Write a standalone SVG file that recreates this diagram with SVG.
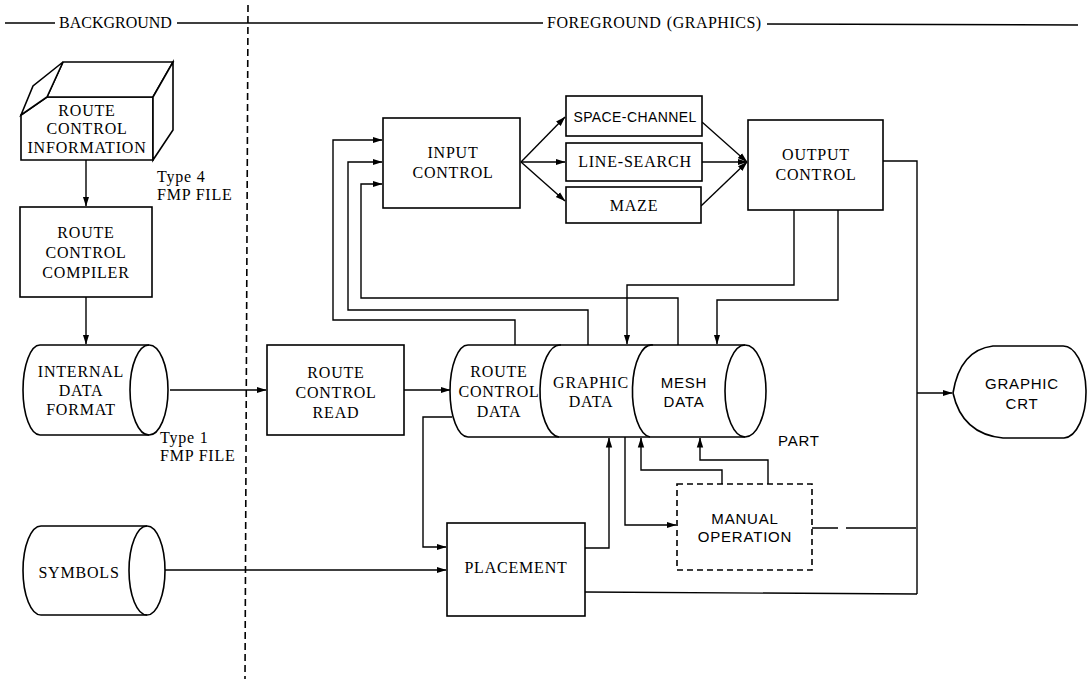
<svg xmlns="http://www.w3.org/2000/svg" width="1090" height="679" viewBox="0 0 1090 679">
<style>
.s{fill:none;stroke:#000;stroke-width:1.6}
.w{fill:#fff;stroke:#000;stroke-width:1.6}
.c{fill:none;stroke:#000;stroke-width:1.4}
.a{marker-end:url(#ah)}
.t{font-family:"Liberation Serif",serif;font-size:16px;letter-spacing:0.8px;fill:#000;text-anchor:middle}
.ts{font-family:"Liberation Sans",sans-serif;font-size:15px;letter-spacing:0.8px;fill:#000;text-anchor:middle}
.l{text-anchor:start}
.h{letter-spacing:0px}
.h2{letter-spacing:0.5px;word-spacing:1px}
</style>
<defs>
<marker id="ah" markerWidth="10" markerHeight="8" refX="9.5" refY="4" orient="auto" markerUnits="userSpaceOnUse">
<path d="M0,0.8 L10,4 L0,7.2 z" fill="#000"/>
</marker>
</defs>
<rect width="1090" height="679" fill="#fff"/>

<g id="header">
<path class="c" d="M5,23 H55 M177,23 H543 M767,24 L1078,25"/>
<text class="t l h" x="59" y="28">BACKGROUND</text>
<text class="t l h2" x="547" y="28">FOREGROUND (GRAPHICS)</text>
<path d="M248,5 L245,679" fill="none" stroke="#000" stroke-width="1.6" stroke-dasharray="7,4"/>
</g>

<g id="connectors">
<path class="c a" d="M86,160 V206"/>
<path class="c a" d="M86,297 V344"/>
<path class="c a" d="M170,390 H266"/>
<path class="c a" d="M404,390 H450"/>
<path class="c a" d="M515,345 V320 H333 V140 H382"/>
<path class="c a" d="M588,345 V310 H348 V162 H382"/>
<path class="c a" d="M678,345 V298 H361 V184 H382"/>
<path class="c a" d="M521,162 L565,117"/>
<path class="c a" d="M521,162 H565"/>
<path class="c a" d="M521,162 L565,201"/>
<path class="c a" d="M702,122 L747,162"/>
<path class="c a" d="M702,162 H747"/>
<path class="c a" d="M701,206 L747,162"/>
<path class="c a" d="M794,210 V285 H627 V344"/>
<path class="c a" d="M838,210 V300 H717 V344"/>
<path class="c" d="M883,161 H917 V594"/>
<path class="c a" d="M917,393 H952"/>
<path class="c" d="M585,592 L917,594"/>
<path class="c" d="M812,528 H838 M846,528 H916"/>
<path class="c a" d="M722,484 V470 H641 V438"/>
<path class="c a" d="M768,484 V460 H700 V438"/>
<path class="c a" d="M625,437 V525 H676"/>
<path class="c a" d="M585,548 H609 V438"/>
<path class="c a" d="M452,417 H423 V547 H446"/>
<path class="c a" d="M165,570 H446"/>
</g>

<g id="route-control-information">
<path class="w" d="M21,115 L47,97 H153 V160 H21 Z"/>
<path class="w" d="M47,97 L63,62 H173 L153,97 Z"/>
<path class="w" d="M153,97 L173,62 V130 L153,160 Z"/>
<path class="w" d="M21,115 L33,86 L63,62 L47,97 Z"/>
<text class="t" x="87" y="116">ROUTE</text>
<text class="t" x="87" y="134">CONTROL</text>
<text class="t" x="87" y="153">INFORMATION</text>
</g>

<g id="route-control-compiler">
<rect class="w" x="20" y="207" width="132" height="90"/>
<text class="t" x="86" y="238">ROUTE</text>
<text class="t" x="86" y="258">CONTROL</text>
<text class="t" x="86" y="278">COMPILER</text>
</g>

<g id="type4-label">
<text class="t l" x="157" y="182">Type 4</text>
<text class="t l" x="157" y="200">FMP FILE</text>
</g>

<g id="internal-data-format">
<path class="w" d="M40,345 H149 A19,45 0 0 1 149,435 H40 A17,45 0 0 1 40,345 Z"/>
<path class="s" d="M149,345 A19,45 0 0 0 149,435"/>
<text class="t" x="81" y="377">INTERNAL</text>
<text class="t" x="81" y="396">DATA</text>
<text class="t" x="81" y="415">FORMAT</text>
</g>

<g id="type1-label">
<text class="t l" x="160" y="443">Type 1</text>
<text class="t l" x="160" y="461">FMP FILE</text>
</g>

<g id="symbols">
<path class="w" d="M41,526 H147 A18,44.5 0 0 1 147,615 H41 A18,44.5 0 0 1 41,526 Z"/>
<path class="s" d="M147,526 A18,44.5 0 0 0 147,615"/>
<text class="t" x="79" y="578">SYMBOLS</text>
</g>

<g id="route-control-read">
<rect class="w" x="267" y="345" width="137" height="90"/>
<text class="t" x="336" y="378">ROUTE</text>
<text class="t" x="336" y="398">CONTROL</text>
<text class="t" x="336" y="418">READ</text>
</g>

<g id="part-database">
<path class="w" d="M468,345 H745 A21,46 0 0 1 745,437 H468 A18,46 0 0 1 468,345 Z"/>
<path class="s" d="M561,345 A20,46 0 0 0 559,437"/>
<path class="s" d="M653,345 A19,46 0 0 0 650,437"/>
<path class="s" d="M745,345 A20,46 0 0 0 745,437"/>
<text class="t" x="499" y="377">ROUTE</text>
<text class="t" x="499" y="397">CONTROL</text>
<text class="t" x="499" y="417">DATA</text>
<text class="t" x="591" y="388">GRAPHIC</text>
<text class="t" x="591" y="407">DATA</text>
<text class="ts" x="684" y="388">MESH</text>
<text class="ts" x="684" y="407">DATA</text>
<text class="ts l" x="778" y="446">PART</text>
</g>

<g id="input-control">
<rect class="w" x="383" y="118" width="137" height="90"/>
<text class="t" x="453" y="158">INPUT</text>
<text class="t" x="453" y="178">CONTROL</text>
</g>

<g id="space-channel">
<rect class="w" x="566" y="96" width="136" height="40"/>
<text class="ts" x="635" y="122" style="font-size:14px;letter-spacing:0.4px">SPACE-CHANNEL</text>
</g>

<g id="line-search">
<rect class="w" x="566" y="143" width="136" height="38"/>
<text class="t" x="635" y="167">LINE-SEARCH</text>
</g>

<g id="maze">
<rect class="w" x="566" y="187" width="135" height="36"/>
<text class="t" x="634" y="211">MAZE</text>
</g>

<g id="output-control">
<rect class="w" x="748" y="120" width="135" height="90"/>
<text class="t" x="816" y="160">OUTPUT</text>
<text class="t" x="816" y="180">CONTROL</text>
</g>

<g id="graphic-crt">
<path class="w" d="M953,393 Q960,350 993,346 H1062 A23,46 0 0 1 1064,438 H1003 Q962,434 953,393 Z"/>
<text class="ts" x="1022" y="389">GRAPHIC</text>
<text class="ts" x="1022" y="409">CRT</text>
</g>

<g id="placement">
<rect class="w" x="447" y="523" width="138" height="93"/>
<text class="t" x="516" y="573">PLACEMENT</text>
</g>

<g id="manual-operation">
<rect x="677" y="484" width="135" height="86" fill="#fff" stroke="#000" stroke-width="1.6" stroke-dasharray="6,4"/>
<text class="ts" x="745" y="524">MANUAL</text>
<text class="ts" x="745" y="542">OPERATION</text>
</g>
</svg>
